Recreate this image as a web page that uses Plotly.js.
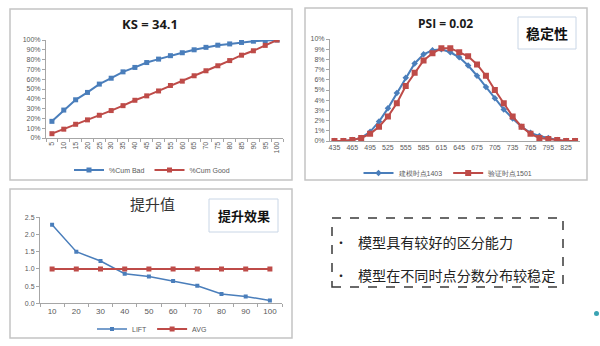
<!DOCTYPE html>
<html><head><meta charset="utf-8">
<script src="https://cdn.plot.ly/plotly-3.0.1.min.js"></script>
<style>html,body{margin:0;padding:0;background:#fff}#chart{width:600px;height:346px}</style>
</head><body><div id="chart"></div>
<script>
// KS chart data
const ksCategories = ['5','10','15','20','25','30','35','40','45','50','55','60','65','70','75','80','85','90','95','100'];
const ksCumBad  = [0.17,0.285,0.39,0.465,0.55,0.61,0.675,0.72,0.77,0.805,0.84,0.87,0.90,0.925,0.947,0.96,0.975,0.988,0.995,1.0];
const ksCumGood = [0.044,0.09,0.14,0.185,0.232,0.28,0.33,0.385,0.43,0.48,0.536,0.58,0.635,0.686,0.737,0.79,0.845,0.89,0.945,1.0];

// PSI chart data
const psiCategories = ['435','450','465','480','495','510','525','540','555','570','585','600','615','630','645','660','675','690','705','720','735','750','765','780','795','810','825','840'];
const psiTickLabels = ['435','465','495','525','555','585','615','645','675','705','735','765','795','825'];
const psiBuild = [0.0,0.0,0.001,0.003,0.009,0.019,0.032,0.047,0.062,0.076,0.085,0.089,0.090,0.087,0.082,0.074,0.064,0.053,0.042,0.031,0.022,0.014,0.008,0.005,0.003,0.001,0.0,0.0];
const psiValid = [0.0,0.0,0.001,0.003,0.007,0.014,0.024,0.037,0.054,0.067,0.079,0.086,0.091,0.091,0.087,0.083,0.075,0.064,0.050,0.037,0.024,0.014,0.007,0.003,0.002,0.001,0.0,0.0];

// Lift chart data
const liftCategories = ['10','20','30','40','50','60','70','80','90','100'];
const liftValues = [2.28,1.50,1.23,0.86,0.78,0.65,0.51,0.27,0.20,0.08];
const avgValues  = [1,1,1,1,1,1,1,1,1,1];

// Texts
const ksTitle = 'KS = 34.1';
const psiTitle = 'PSI = 0.02';
const liftTitle = '提升值';
const psiTag = '稳定性';
const liftTag = '提升效果';
const bullets = ['模型具有较好的区分能力','模型在不同时点分数分布较稳定'];

const W = 600, H = 346;
const px = v => v / W;
const py = v => 1 - v / H;

const BLUE = '#4a7ebb', RED = '#be4b48';
const tickFont = {family:'Liberation Sans, Arial, sans-serif', size:7, color:'#595959'};
const legFont = {family:'Liberation Sans, Arial, sans-serif', size:7, color:'#595959'};

const traces = [
  {x: ksCategories, y: ksCumBad, name:'%Cum Bad', type:'scatter', mode:'lines+markers',
   line:{color:BLUE, width:2}, marker:{symbol:'square', size:5, color:BLUE}, xaxis:'x', yaxis:'y', legend:'legend'},
  {x: ksCategories, y: ksCumGood, name:'%Cum Good', type:'scatter', mode:'lines+markers',
   line:{color:RED, width:2}, marker:{symbol:'square', size:5, color:RED}, xaxis:'x', yaxis:'y', legend:'legend'},
  {x: psiCategories, y: psiBuild, name:'建模时点1403', type:'scatter', mode:'lines+markers',
   line:{color:BLUE, width:2}, marker:{symbol:'diamond', size:5, color:BLUE}, xaxis:'x2', yaxis:'y2', legend:'legend2'},
  {x: psiCategories, y: psiValid, name:'验证时点1501', type:'scatter', mode:'lines+markers',
   line:{color:RED, width:2}, marker:{symbol:'square', size:6, color:RED}, xaxis:'x2', yaxis:'y2', legend:'legend2'},
  {x: liftCategories, y: liftValues, name:'LIFT', type:'scatter', mode:'lines+markers',
   line:{color:BLUE, width:1.5}, marker:{symbol:'square', size:4, color:BLUE}, xaxis:'x3', yaxis:'y3', legend:'legend3'},
  {x: liftCategories, y: avgValues, name:'AVG', type:'scatter', mode:'lines+markers',
   line:{color:RED, width:2}, marker:{symbol:'square', size:5, color:RED}, xaxis:'x3', yaxis:'y3', legend:'legend3'}
];

const axLine = {showline:true, linecolor:'#a6a6a6', linewidth:1, showgrid:false, zeroline:false, tickfont:tickFont, ticklen:3, tickcolor:'#a6a6a6'};

const legBase = {orientation:'h', xanchor:'center', yanchor:'middle', font:legFont, bgcolor:'rgba(0,0,0,0)', itemwidth:30};

const layout = {
  width: W, height: H, margin:{l:0,r:0,t:0,b:0},
  paper_bgcolor:'#ffffff', plot_bgcolor:'rgba(0,0,0,0)',
  xaxis: Object.assign({}, axLine, {domain:[px(46), px(283)], type:'category', range:[-0.5,19.5], anchor:'y',
    tickangle:-90, ticks:'outside', tickson:'boundaries'}),
  yaxis: Object.assign({}, axLine, {domain:[py(138), py(40)], range:[0,1], dtick:0.1, tickformat:'.0%', anchor:'x', ticks:'outside'}),
  xaxis2: Object.assign({}, axLine, {domain:[px(330), px(579.5)], type:'category', range:[-0.5,27.5], anchor:'y2',
    tickmode:'array', tickvals: psiTickLabels, ticktext: psiTickLabels, ticks:''}),
  yaxis2: Object.assign({}, axLine, {domain:[py(141), py(39)], range:[0,0.1], dtick:0.01, tickformat:'.0%', anchor:'x2', ticks:'outside'}),
  xaxis3: Object.assign({}, axLine, {domain:[px(40), px(282)], type:'category', range:[-0.5,9.5], anchor:'y3',
    ticks:'outside', tickson:'boundaries', tickfont:Object.assign({}, tickFont, {size:8})}),
  yaxis3: Object.assign({}, axLine, {domain:[py(303.3), py(217.3)], range:[0,2.5], dtick:0.5, tickformat:'.1f', anchor:'x3', ticks:'outside'}),
  legend: Object.assign({}, legBase, {x:px(152), y:py(170)}),
  legend2: Object.assign({}, legBase, {x:px(448), y:py(173)}),
  legend3: Object.assign({}, legBase, {x:px(152), y:py(329)}),
  shapes: [
    {type:'rect', xref:'paper', yref:'paper', x0:px(10), x1:px(292), y0:py(180), y1:py(9), line:{color:'#c4c4c4', width:1.5}},
    {type:'rect', xref:'paper', yref:'paper', x0:px(305), x1:px(587), y0:py(180), y1:py(8), line:{color:'#c4c4c4', width:1.5}},
    {type:'rect', xref:'paper', yref:'paper', x0:px(10), x1:px(292), y0:py(338), y1:py(189), line:{color:'#c4c4c4', width:1.5}},
    {type:'rect', xref:'paper', yref:'paper', x0:px(518), x1:px(576), y0:py(49), y1:py(17), line:{color:'#c9d6e6', width:1}, fillcolor:'#ffffff'},
    {type:'rect', xref:'paper', yref:'paper', x0:px(209), x1:px(278), y0:py(232), y1:py(199), line:{color:'#c9d6e6', width:1}, fillcolor:'#ffffff'},
    {type:'rect', xref:'paper', yref:'paper', x0:px(332), x1:px(563), y0:py(287), y1:py(218), line:{color:'#3a3a3a', width:1.5, dash:'dash'}},
    {type:'circle', xref:'paper', yref:'paper', x0:px(594), x1:px(599), y0:py(316), y1:py(311), line:{width:0}, fillcolor:'#3aa3b3'}
  ],
  annotations: [
    {text:'<b>'+ksTitle+'</b>', xref:'paper', yref:'paper', x:px(150), y:py(24), xanchor:'center', yanchor:'middle', showarrow:false,
     font:{family:'Open Sans, sans-serif', size:13, color:'#1a1a1a'}},
    {text:'<b>'+psiTitle+'</b>', xref:'paper', yref:'paper', x:px(445), y:py(23), xanchor:'center', yanchor:'middle', showarrow:false,
     font:{family:'Open Sans, sans-serif', size:12, color:'#1a1a1a'}},
    {text:liftTitle, xref:'paper', yref:'paper', x:px(152), y:py(203), xanchor:'center', yanchor:'middle', showarrow:false,
     font:{family:'Noto Sans CJK SC, sans-serif', size:15, color:'#333333'}},
    {text:'<b>'+psiTag+'</b>', xref:'paper', yref:'paper', x:px(547), y:py(33), xanchor:'center', yanchor:'middle', showarrow:false,
     font:{family:'Noto Sans CJK SC, sans-serif', size:14, color:'#111111'}},
    {text:'<b>'+liftTag+'</b>', xref:'paper', yref:'paper', x:px(243.5), y:py(215.5), xanchor:'center', yanchor:'middle', showarrow:false,
     font:{family:'Noto Sans CJK SC, sans-serif', size:13, color:'#111111'}},
    {text:'•', xref:'paper', yref:'paper', x:px(341), y:py(242), xanchor:'center', yanchor:'middle', showarrow:false,
     font:{family:'Noto Sans CJK SC, sans-serif', size:12, color:'#222222'}},
    {text:bullets[0], xref:'paper', yref:'paper', x:px(356), y:py(242), xanchor:'left', yanchor:'middle', showarrow:false,
     font:{family:'Noto Sans CJK SC, sans-serif', size:14.1, color:'#222222'}},
    {text:'•', xref:'paper', yref:'paper', x:px(341), y:py(275), xanchor:'center', yanchor:'middle', showarrow:false,
     font:{family:'Noto Sans CJK SC, sans-serif', size:12, color:'#222222'}},
    {text:bullets[1], xref:'paper', yref:'paper', x:px(356), y:py(275), xanchor:'left', yanchor:'middle', showarrow:false,
     font:{family:'Noto Sans CJK SC, sans-serif', size:14.1, color:'#222222'}}
  ]
};

Plotly.newPlot('chart', traces, layout, {staticPlot:true, displayModeBar:false});
</script></body></html>
